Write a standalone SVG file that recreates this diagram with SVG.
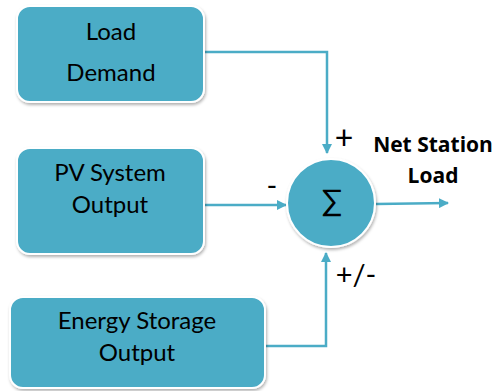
<svg xmlns="http://www.w3.org/2000/svg" width="499" height="391" viewBox="0 0 499 391">
<defs>
<filter id="sh" x="-10%" y="-10%" width="125%" height="130%">
<feDropShadow dx="1" dy="2" stdDeviation="1.5" flood-color="#000" flood-opacity="0.3"/>
</filter>
<marker id="ah" viewBox="0 0 10 10" refX="9" refY="5" markerWidth="4" markerHeight="4" orient="auto" markerUnits="strokeWidth">
<path d="M0,0 L10,5 L0,10 z" fill="#4BACC6"/>
</marker>
<style>
.box{fill:#4BACC6;stroke:#fff;stroke-width:2;filter:url(#sh)}
.t{font-family:Lato,"Open Sans","Liberation Sans",sans-serif;font-size:24px;fill:#000;text-anchor:middle}
.b{font-family:"Open Sans","Liberation Sans",sans-serif;font-size:21px;font-weight:bold;fill:#000;text-anchor:middle}
.s{font-family:Lato,"Liberation Sans",sans-serif;font-size:29px;fill:#000;text-anchor:middle}
.c{fill:none;stroke:#4BACC6;stroke-width:2.5}
</style>
</defs>
<g id="connectors">
<path class="c" d="M205,52 H327 V153" marker-end="url(#ah)"/>
<path class="c" d="M205,205 H286" marker-end="url(#ah)"/>
<path class="c" d="M266,346 H326 V253" marker-end="url(#ah)"/>
<path class="c" d="M376,204 L448,203" marker-end="url(#ah)"/>
</g>
<g id="load-demand">
<rect class="box" x="17" y="6" width="187" height="96" rx="13"/>
<text class="t" x="111" y="40">Load</text>
<text class="t" x="111" y="81">Demand</text>
</g>
<g id="pv-output">
<rect class="box" x="17" y="148" width="187" height="106" rx="13"/>
<text class="t" x="110" y="181">PV System</text>
<text class="t" x="110" y="213">Output</text>
</g>
<g id="storage-output">
<rect class="box" x="10" y="297" width="255" height="91" rx="13"/>
<text class="t" x="137" y="329">Energy Storage</text>
<text class="t" x="137" y="361">Output</text>
</g>
<g id="sum">
<circle class="box" cx="331" cy="203" r="44"/>
<text class="t" x="332" y="211" style="font-size:30px">∑</text>
</g>
<g id="labels">
<text class="s" x="344" y="149" style="font-size:32px">+</text>
<text class="s" x="272" y="196">-</text>
<text class="s" x="356" y="285">+/-</text>
<text class="b" x="433" y="152">Net Station</text>
<text class="b" x="433" y="183">Load</text>
</g>
</svg>
